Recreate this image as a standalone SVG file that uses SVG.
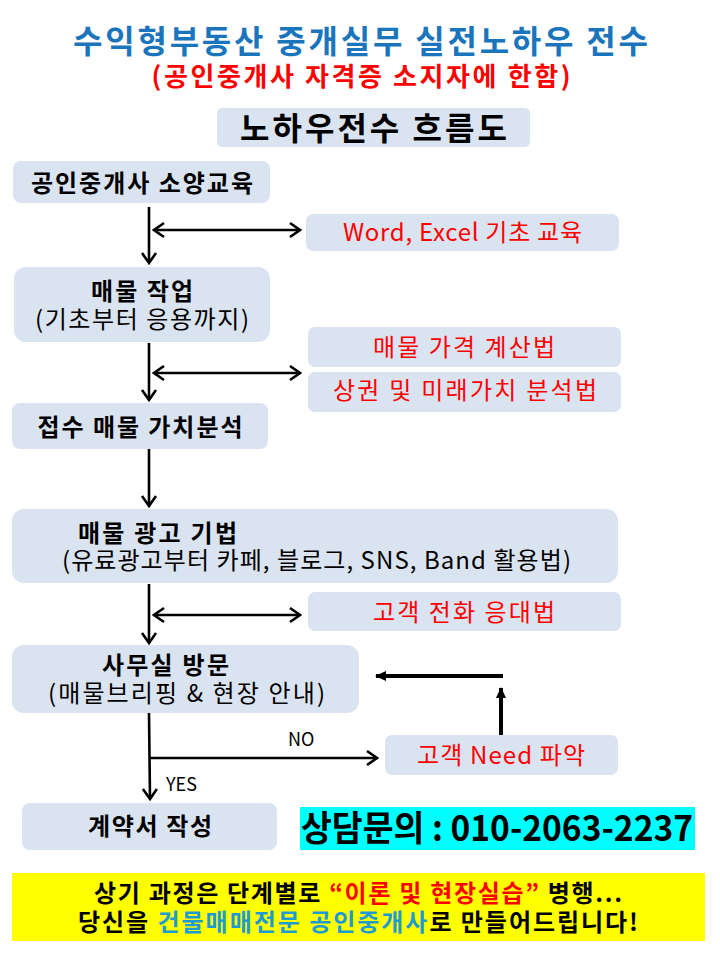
<svg xmlns="http://www.w3.org/2000/svg" width="720" height="960" viewBox="0 0 720 960">
<defs>
<marker id="open" markerUnits="userSpaceOnUse" markerWidth="14" markerHeight="18" viewBox="0 0 14 18" refX="12" refY="9" orient="auto-start-reverse">
<path d="M2,2 L12,9 L2,16" fill="none" stroke="#000" stroke-width="2.6" stroke-linejoin="miter"/>
</marker>
<marker id="tri" markerUnits="userSpaceOnUse" markerWidth="12" markerHeight="12" viewBox="0 0 12 12" refX="10" refY="6" orient="auto">
<path d="M0,1 L11,6 L0,11 Z" fill="#000"/>
</marker>
<style>
.box{fill:#dae3f0;}
text{font-family:"Noto Sans CJK KR","Noto Sans",sans-serif;}
.t{font-size:24px;font-weight:bold;fill:#000;text-anchor:middle;}
.r{font-size:24px;fill:#000;text-anchor:middle;}
.red{font-size:24px;fill:#ff0000;text-anchor:middle;}
.lab{font-size:18px;fill:#000;}
.ln{stroke:#000;stroke-width:2.6;fill:none;}
.thick{stroke:#000;stroke-width:4;fill:none;}
</style>
</defs>
<rect width="720" height="960" fill="#fff"/>

<g id="title">
<text x="360.5" y="53" style="font-size:32px;font-weight:bold;fill:#1b75bc;text-anchor:middle" textLength="575">수익형부동산 중개실무 실전노하우 전수</text>
<text x="361" y="86" style="font-size:26px;font-weight:bold;fill:#ff0000;text-anchor:middle" textLength="419">(공인중개사 자격증 소지자에 한함)</text>
</g>

<g id="header">
<rect class="box" x="217" y="108" width="313" height="39" rx="5"/>
<text x="373.5" y="140" style="font-size:32px;font-weight:bold;fill:#000;text-anchor:middle" textLength="267">노하우전수 흐름도</text>
</g>

<g id="n1">
<rect class="box" x="13" y="161" width="257" height="42" rx="8"/>
<text class="t" x="142" y="192" textLength="222">공인중개사 소양교육</text>
</g>

<g id="n2">
<rect class="box" x="306" y="214" width="313" height="37" rx="7"/>
<text class="red" x="462.5" y="241" textLength="239">Word, Excel 기초 교육</text>
</g>

<g id="n3">
<rect class="box" x="14" y="267" width="256" height="75" rx="12"/>
<text class="t" x="142" y="300" textLength="102">매물 작업</text>
<text class="r" x="142" y="328" textLength="214">(기초부터 응용까지)</text>
</g>

<g id="n4">
<rect class="box" x="308" y="327" width="313" height="40" rx="7"/>
<text class="red" x="464" y="356" textLength="182">매물 가격 계산법</text>
</g>

<g id="n5">
<rect class="box" x="308" y="372" width="313" height="40" rx="7"/>
<text class="red" x="465" y="399" textLength="264">상권 및 미래가치 분석법</text>
</g>

<g id="n6">
<rect class="box" x="12" y="403" width="256" height="46" rx="8"/>
<text class="t" x="140" y="436" textLength="205">접수 매물 가치분석</text>
</g>

<g id="n7">
<rect class="box" x="12" y="509" width="606" height="74" rx="12"/>
<text class="t" x="78" y="542" style="text-anchor:start" textLength="159">매물 광고 기법</text>
<text class="r" x="62" y="569" style="text-anchor:start" textLength="509">(유료광고부터 카페, 블로그, SNS, Band 활용법)</text>
</g>

<g id="n8">
<rect class="box" x="308" y="592" width="313" height="39" rx="7"/>
<text class="red" x="464" y="621" textLength="182">고객 전화 응대법</text>
</g>

<g id="n9">
<rect class="box" x="12" y="645" width="347" height="68" rx="12"/>
<text class="t" x="165.5" y="674" textLength="127">사무실 방문</text>
<text class="r" x="186.5" y="702" textLength="277">(매물브리핑 &amp; 현장 안내)</text>
</g>

<g id="n10">
<rect class="box" x="385" y="735" width="233" height="40" rx="7"/>
<text class="red" x="501" y="764" textLength="168">고객 Need 파악</text>
</g>

<g id="n11">
<rect class="box" x="22" y="803" width="255" height="47" rx="8"/>
<text class="t" x="150" y="835" textLength="124">계약서 작성</text>
</g>

<g id="contact">
<rect x="300" y="807" width="395" height="43" fill="#00ffff"/>
<text x="497" y="841" style="font-size:35px;font-weight:bold;fill:#000;text-anchor:middle" textLength="392" lengthAdjust="spacingAndGlyphs">상담문의 : 010-2063-2237</text>
</g>

<g id="note">
<rect x="12" y="873" width="693" height="68" fill="#ffff00"/>
<text x="358" y="902" style="font-size:24px;font-weight:bold;fill:#000;text-anchor:middle" textLength="528">상기 과정은 단계별로 <tspan fill="#ff0000">“이론 및 현장실습”</tspan> 병행...</text>
<text x="358" y="931" style="font-size:24px;font-weight:bold;fill:#000;text-anchor:middle" textLength="560">당신을 <tspan fill="#1f9bd0">건물매매전문 공인중개사</tspan>로 만들어드립니다!</text>
</g>

<g id="connectors">
<line class="ln" x1="149" y1="207" x2="149" y2="263" marker-end="url(#open)"/>
<line class="ln" x1="154" y1="230" x2="300" y2="230" marker-start="url(#open)" marker-end="url(#open)"/>
<line class="ln" x1="149" y1="343" x2="149" y2="400" marker-end="url(#open)"/>
<line class="ln" x1="154" y1="373" x2="300" y2="373" marker-start="url(#open)" marker-end="url(#open)"/>
<line class="ln" x1="149" y1="449" x2="149" y2="506" marker-end="url(#open)"/>
<line class="ln" x1="149" y1="584" x2="149" y2="643" marker-end="url(#open)"/>
<line class="ln" x1="154" y1="615" x2="300" y2="615" marker-start="url(#open)" marker-end="url(#open)"/>
<line class="ln" x1="149" y1="713" x2="150" y2="799" marker-end="url(#open)"/>
<line class="ln" x1="150" y1="758" x2="377" y2="758" marker-end="url(#open)"/>
<line class="thick" x1="501" y1="735" x2="501" y2="688" marker-end="url(#tri)"/>
<line class="thick" x1="503" y1="676" x2="376" y2="676" marker-end="url(#tri)"/>
<text class="lab" x="288" y="746">NO</text>
<text class="lab" x="166" y="791">YES</text>
</g>
</svg>
